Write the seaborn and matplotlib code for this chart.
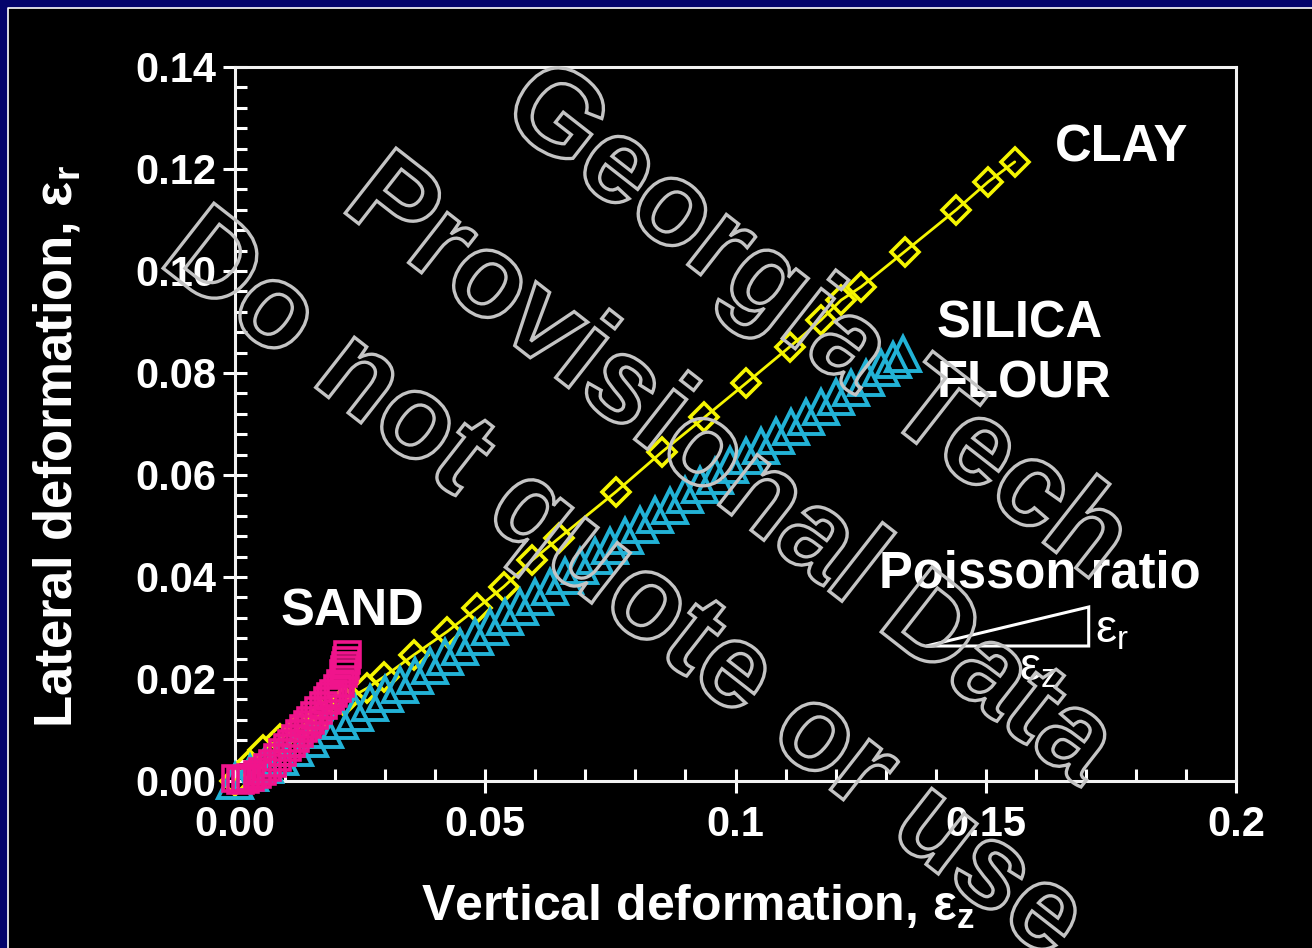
import matplotlib
matplotlib.use('Agg')
import pandas as pd
import matplotlib.pyplot as plt
import seaborn as sns
from matplotlib.ticker import MultipleLocator
from matplotlib.textpath import TextPath
from matplotlib.font_manager import FontProperties
from matplotlib.patches import PathPatch, Rectangle, Polygon
from matplotlib.lines import Line2D
from matplotlib.transforms import Affine2D, IdentityTransform

# CLAY (yellow diamonds, line)
clay_x = [0.0, 0.0026, 0.0056, 0.0090, 0.0130, 0.0172, 0.0217, 0.0264, 0.0297,
          0.0357, 0.0424, 0.0484, 0.0537, 0.0594, 0.0647, 0.0761, 0.0854, 0.0938,
          0.1021, 0.1108, 0.1171, 0.1211, 0.1251, 0.1338, 0.1441, 0.1505, 0.1558]
clay_y = [0.0, 0.0030, 0.0060, 0.0083, 0.0106, 0.0130, 0.0156, 0.0182, 0.0204,
          0.0247, 0.0293, 0.0339, 0.0381, 0.0433, 0.0476, 0.0567, 0.0646, 0.0713,
          0.0780, 0.0851, 0.0904, 0.0943, 0.0969, 0.1038, 0.1120, 0.1175, 0.1214]

# SILICA FLOUR (cyan triangles)
silica_x = [0.000, 0.003, 0.006, 0.009, 0.012, 0.015, 0.018, 0.021, 0.024, 0.027,
            0.030, 0.033, 0.036, 0.039, 0.042, 0.045, 0.048, 0.051, 0.054, 0.057,
            0.060, 0.063, 0.066, 0.069, 0.072, 0.075, 0.078, 0.081, 0.084, 0.087,
            0.090, 0.093, 0.096, 0.099, 0.102, 0.105, 0.108, 0.111, 0.114, 0.117,
            0.120, 0.123, 0.126, 0.129, 0.1315, 0.1335]
silica_y = [0.0000, 0.0015, 0.0031, 0.0048, 0.0065, 0.0083, 0.0100, 0.0117, 0.0134, 0.0152,
            0.0170, 0.0188, 0.0206, 0.0225, 0.0244, 0.0263, 0.0282, 0.0302, 0.0321, 0.0341,
            0.0361, 0.0381, 0.0401, 0.0421, 0.0441, 0.0461, 0.0481, 0.0501, 0.0521, 0.0540,
            0.0560, 0.0580, 0.0599, 0.0619, 0.0638, 0.0657, 0.0676, 0.0695, 0.0714, 0.0733,
            0.0752, 0.0771, 0.0790, 0.0810, 0.0826, 0.0838]

# SAND (pink squares)
sand_x = [0.0, 0.001, 0.002, 0.003, 0.0044, 0.0054, 0.0064, 0.0074, 0.0084, 0.0094,
          0.0104, 0.0112, 0.0120, 0.0128, 0.0136, 0.0143, 0.0150, 0.0158, 0.0166, 0.0175,
          0.0184, 0.0190, 0.0196, 0.0203, 0.0210, 0.0216, 0.0218, 0.0220, 0.0222, 0.0224]
sand_y = [0.0005, 0.0002, 0.0004, 0.0007, 0.0013, 0.0019, 0.0027, 0.0036, 0.0047, 0.0057,
          0.0067, 0.0075, 0.0084, 0.0094, 0.0104, 0.0112, 0.0120, 0.0130, 0.0139, 0.0149,
          0.0159, 0.0166, 0.0173, 0.0182, 0.0192, 0.0212, 0.0220, 0.0227, 0.0238, 0.0250]

xticks = [0.0, 0.05, 0.1, 0.15, 0.2]
xtick_labels = ['0.00', '0.05', '0.1', '0.15', '0.2']
yticks = [0.0, 0.02, 0.04, 0.06, 0.08, 0.10, 0.12, 0.14]
ytick_labels = ['0.00', '0.02', '0.04', '0.06', '0.08', '0.10', '0.12', '0.14']
watermark = ['Georgia Tech', 'Provisional Data', 'Do not quote or use']

YELLOW = '#f5f500'
CYAN = '#22b2d6'
PINK = '#f0148c'
NAVY = '#03036b'

sns.set_theme(style='ticks')
plt.rcParams['font.family'] = ['Liberation Sans', 'DejaVu Sans']
plt.rcParams['font.weight'] = 'bold'
plt.rcParams['mathtext.default'] = 'regular'

W, H = 1312, 948
fig = plt.figure(figsize=(W / 100, H / 100), dpi=100, facecolor=NAVY)
# black slide area with a thin white rule along its top and left edges
fig.patches.append(Rectangle((8 / W, -0.1), 1.2, (H - 8) / H + 0.1, transform=fig.transFigure,
                             fc='black', ec='none', zorder=-10))
fig.add_artist(Line2D([8 / W, 8 / W, 1.1], [-0.1, (H - 8) / H, (H - 8) / H],
                      color='white', lw=1.2, transform=fig.transFigure, zorder=-9))

ax = fig.add_axes([235 / W, 1 - 781 / H, 1001 / W, 714 / H])
ax.set_facecolor('none')
ax.set_zorder(1)

clay = pd.DataFrame({'x': clay_x, 'y': clay_y})
silica = pd.DataFrame({'x': silica_x, 'y': silica_y})
sand = pd.DataFrame({'x': sand_x, 'y': sand_y})

sns.lineplot(data=clay, x='x', y='y', ax=ax, color=YELLOW, lw=2, marker='D', ms=14,
             mfc='none', mec=YELLOW, mew=2.6, estimator=None, sort=False, clip_on=False, zorder=3)
sns.lineplot(data=silica, x='x', y='y', ax=ax, color=CYAN, linestyle='', marker='^', ms=25,
             mfc='none', mec=CYAN, mew=2.8, estimator=None, sort=False, clip_on=False, zorder=4)
sns.lineplot(data=sand, x='x', y='y', ax=ax, color=PINK, linestyle='', marker='s', ms=18,
             mfc='none', mec=PINK, mew=2.6, estimator=None, sort=False, clip_on=False, zorder=5)

ax.set_xlim(0, 0.2)
ax.set_ylim(0, 0.14)
ax.set_xticks(xticks)
ax.set_xticklabels(xtick_labels)
ax.set_yticks(yticks)
ax.set_yticklabels(ytick_labels)
ax.xaxis.set_minor_locator(MultipleLocator(0.01))
ax.yaxis.set_minor_locator(MultipleLocator(0.004))
ax.tick_params(which='major', direction='inout', length=17, width=2.2, colors='white',
               labelsize=30, pad=9, top=False, right=False)
ax.tick_params(axis='y', which='major', pad=5)
ax.tick_params(which='minor', direction='in', length=8.6, width=2.2, colors='white',
               top=False, right=False)
for s in ax.spines.values():
    s.set_color('#f2f2f2')
    s.set_linewidth(2.2)

ax.set_xlabel(r'Vertical deformation, $\mathregular{ε_z}$', fontsize=36, color='white',
              fontweight='bold')
ax.set_ylabel(r'Lateral deformation, $\mathregular{ε_r}$', fontsize=38, color='white',
              fontweight='bold')
ax.xaxis.set_label_coords(0.462, -0.143)
ax.yaxis.set_label_coords(-0.152, 0.468)

# annotations
def d(xp, yp):
    return (xp - 235) / 4995, (781 - yp) / 5100

kw = dict(color='white', fontsize=36.5, fontweight='bold', va='baseline', ha='left')
ax.text(*d(1053, 162), 'CLAY', **kw)
ax.text(*d(935, 337), 'SILICA', **kw)
ax.text(*d(935, 398), 'FLOUR', **kw)
ax.text(*d(280, 625), 'SAND', **kw)
ax.text(*d(878, 587), 'Poisson ratio', **kw)
ax.add_patch(Polygon([d(925, 646), d(1087, 607), d(1087, 646)], closed=True, fill=False,
                     ec='white', lw=2.2, clip_on=False))
ax.text(*d(1093, 642), r'$\mathregular{ε_r}$', color='white', fontsize=34, fontweight='normal',
        va='baseline')
ax.text(*d(1017, 680), r'$\mathregular{ε_z}$', color='white', fontsize=34, fontweight='normal',
        va='baseline')

# outlined watermark
prop = FontProperties(family='Liberation Sans', weight='bold')
centers = [(817, 320), (735, 472), (627, 585)]
for line, (cx, cy) in zip(watermark, centers):
    tp = TextPath((0, 0), line, size=120, prop=prop)
    ext = tp.get_extents()
    tr = Affine2D().translate(-(ext.x0 + ext.x1) / 2, -36).rotate_deg(-38).translate(cx, H - cy)
    fig.add_artist(PathPatch(tr.transform_path(tp), fc='none', ec='#c4c4c4', lw=2.4,
                             transform=IdentityTransform(), zorder=10))

fig.savefig('out.png', dpi=100, facecolor=fig.get_facecolor())
